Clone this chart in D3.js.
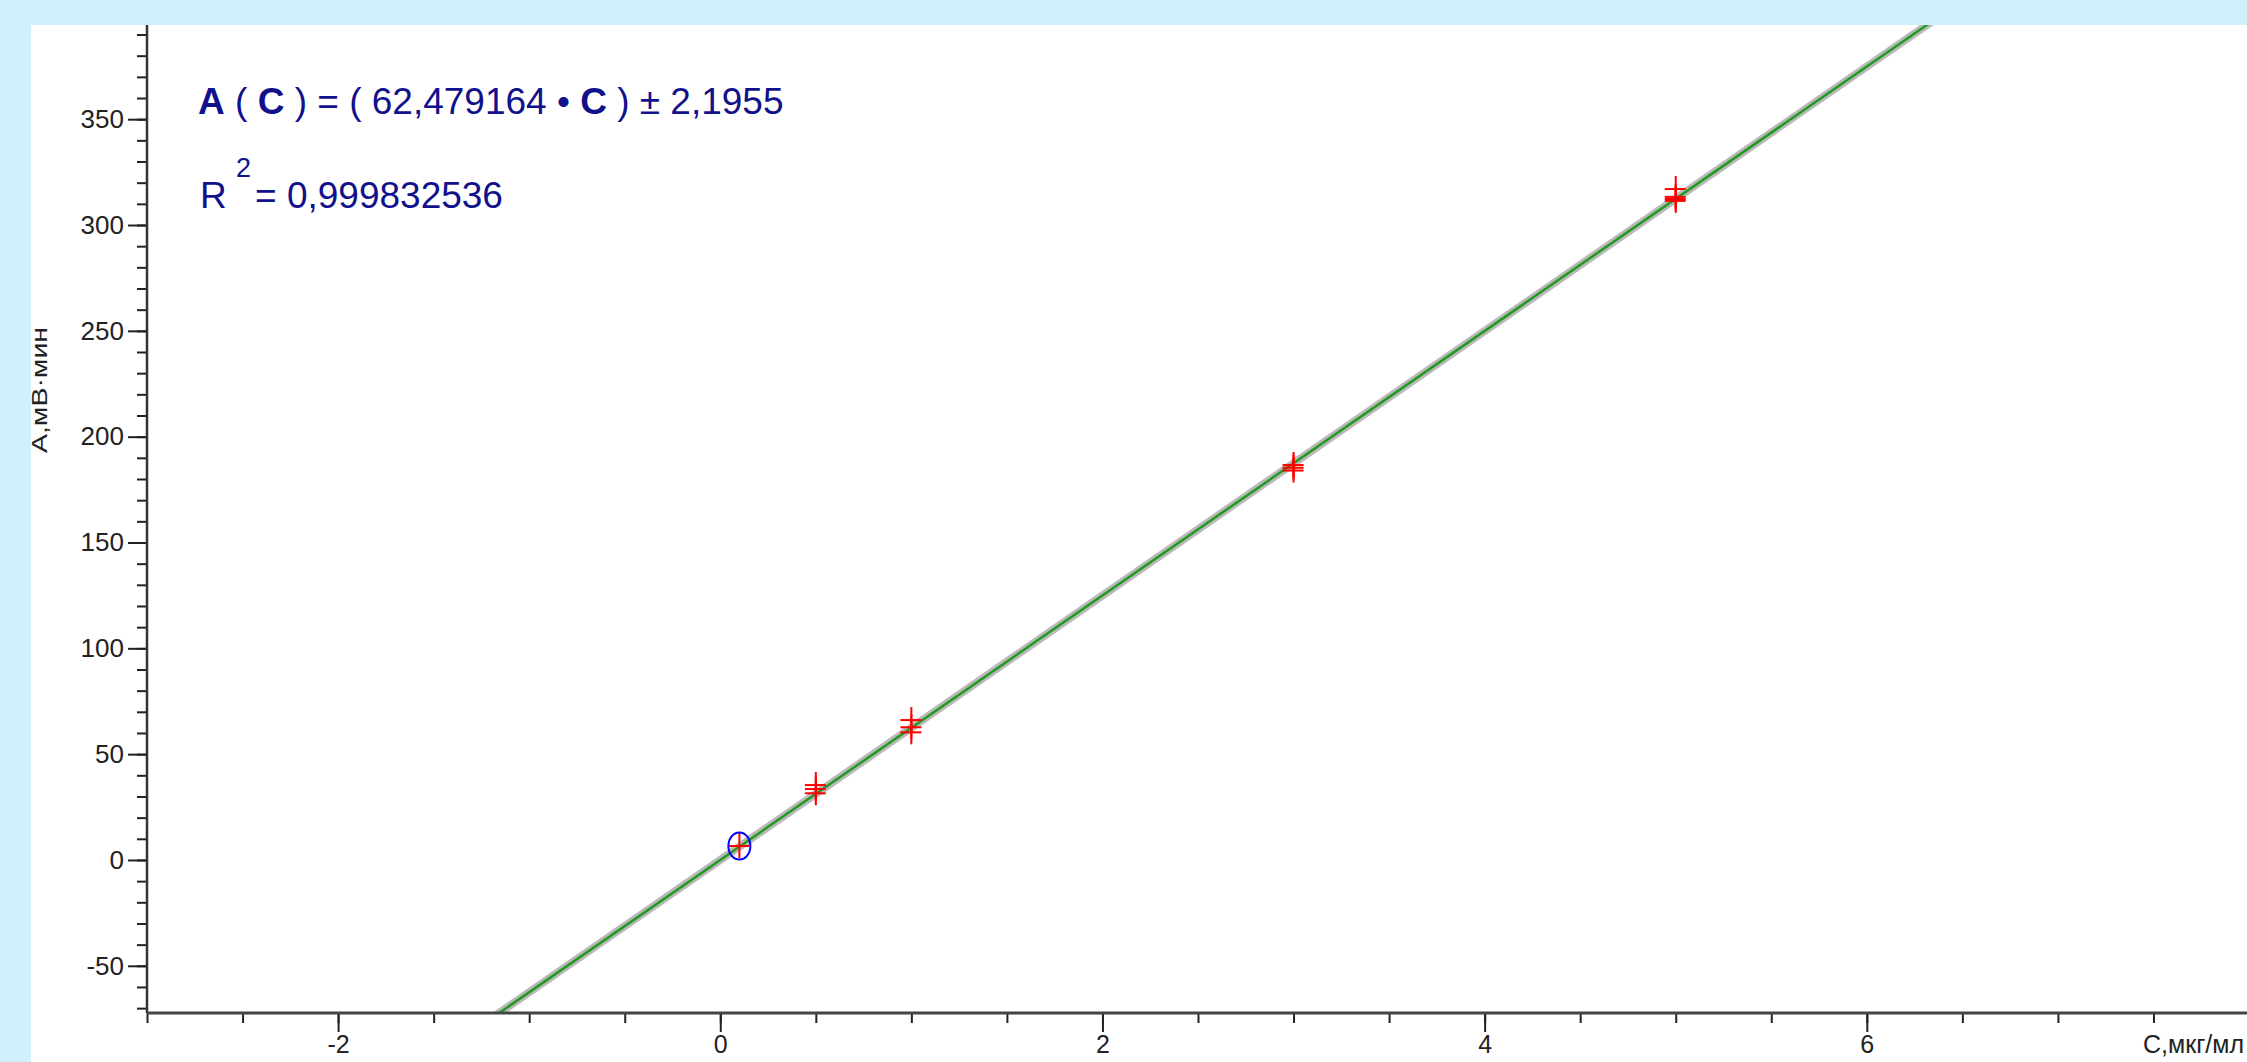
<!DOCTYPE html>
<html>
<head>
<meta charset="utf-8">
<script src="https://cdn.jsdelivr.net/npm/d3@7/dist/d3.min.js"></script>
<style>
  html, body { margin: 0; padding: 0; background: #d0f0fc; overflow: hidden; }
  svg { display: block; font-family: Arial, "Liberation Sans", sans-serif; }
</style>
</head>
<body>
<script>
// calibration standards, C in мкг/мл
let concentrations = [0.1, 0.5, 1, 3, 5];
// peak areas of the replicate runs for each standard, A in мВ·мин
let areas = [
    [6.6],
    [35.4, 33.5, 31.5],
    [66.1, 62.7, 60.3],
    [186.6, 185.3, 184.0],
    [317.0, 313.3, 312.3, 311.4]
];
// control sample (blue mark)
let controlC = [0.1];
let controlA = [6.6];

// fitted line A(C) = k*C
let slope = 62.479164;
let equationText = "A ( C ) = ( 62,479164 • C ) ± 2,1955";
let r2Text = "= 0,999832536";

// axes
let xDomain = [-3, 8];
let yDomain = [-72.3, 394.5];
let xMajor = [-2, 0, 2, 4, 6];
let xMinor = d3.range(-3, 8.01, 0.5);
let yMajor = [-50, 0, 50, 100, 150, 200, 250, 300, 350];
let yMinor = d3.range(-70, 391, 10);
let xTitle = "C,мкг/мл";
let yTitle = "A,мВ·мин";

let svgWidth = 2247, svgHeight = 1062;
let plot = { left: 147, right: 2249, top: 25, bottom: 1013 };

let svg = d3.select("body")
    .append("svg")
    .attr("width", svgWidth)
    .attr("height", svgHeight);

// white chart panel
svg.append("rect")
    .attr("x", 31).attr("y", 25)
    .attr("width", svgWidth - 31).attr("height", svgHeight - 25)
    .attr("fill", "#ffffff");

let xScale = d3.scaleLinear().domain(xDomain).range([plot.left, plot.right]);
let yScale = d3.scaleLinear().domain(yDomain).range([plot.bottom, plot.top]);

svg.append("clipPath").attr("id", "plotclip")
    .append("rect")
    .attr("x", plot.left).attr("y", plot.top)
    .attr("width", plot.right - plot.left).attr("height", plot.bottom - plot.top);

// regression line: grey halo + green core
let lineData = xDomain.map(c => ({ c: c, a: slope * c }));
let lineGen = d3.line().x(d => xScale(d.c)).y(d => yScale(d.a));
let lineG = svg.append("g").attr("clip-path", "url(#plotclip)");
lineG.append("path").datum(lineData)
    .attr("fill", "none").attr("stroke", "#b9b9b9").attr("stroke-width", 8)
    .attr("d", lineGen);
lineG.append("path").datum(lineData)
    .attr("fill", "none").attr("stroke", "#229a22").attr("stroke-width", 2.5)
    .attr("d", lineGen);

// replicate points as red crosses
let points = [];
concentrations.forEach((c, i) => areas[i].forEach(a => points.push({ c: c, a: a })));

let marks = svg.append("g").attr("stroke", "#ff0000").attr("stroke-width", 2);
marks.selectAll("line.v").data(points).enter().append("line")
    .attr("class", "v")
    .attr("x1", d => xScale(d.c)).attr("x2", d => xScale(d.c))
    .attr("y1", d => yScale(d.a) - 13).attr("y2", d => yScale(d.a) + 12);
marks.selectAll("line.h").data(points).enter().append("line")
    .attr("class", "h")
    .attr("x1", d => xScale(d.c) - 11).attr("x2", d => xScale(d.c) + 10)
    .attr("y1", d => yScale(d.a)).attr("y2", d => yScale(d.a));

// control sample ring
svg.selectAll("ellipse.ctrl").data(controlC).enter().append("ellipse")
    .attr("class", "ctrl")
    .attr("cx", d => xScale(d)).attr("cy", (d, i) => yScale(controlA[i]))
    .attr("rx", 11).attr("ry", 13.5)
    .attr("fill", "none").attr("stroke", "#0000ff").attr("stroke-width", 2);

// axes
function styleAxis(g) {
    g.selectAll(".tick line").attr("stroke", "#222").attr("stroke-width", 2);
    g.selectAll(".tick text").attr("fill", "#222").attr("font-size", 26)
        .attr("font-family", "Arial, 'Liberation Sans', sans-serif");
    g.select(".domain").remove();
}
let plainNum = d => String(d);

svg.append("g").attr("transform", "translate(" + plot.left + ",0)")
    .call(d3.axisLeft(yScale).tickValues(yMinor).tickSize(10).tickFormat(""))
    .call(styleAxis);
svg.append("g").attr("transform", "translate(" + plot.left + ",0)")
    .call(d3.axisLeft(yScale).tickValues(yMajor).tickSize(19).tickPadding(4).tickFormat(plainNum))
    .call(styleAxis);

svg.append("g").attr("transform", "translate(0," + plot.bottom + ")")
    .call(d3.axisBottom(xScale).tickValues(xMinor).tickSize(10).tickFormat(""))
    .call(styleAxis);
let xAxisG = svg.append("g").attr("transform", "translate(0," + plot.bottom + ")")
    .call(d3.axisBottom(xScale).tickValues(xMajor).tickSize(19).tickPadding(3).tickFormat(plainNum))
    .call(styleAxis);
xAxisG.selectAll(".tick text").attr("font-size", 25);

// axis lines
svg.append("line")
    .attr("x1", plot.left).attr("x2", plot.left)
    .attr("y1", plot.top).attr("y2", plot.bottom)
    .attr("stroke", "#333").attr("stroke-width", 2.5);
svg.append("line")
    .attr("x1", plot.left).attr("x2", svgWidth)
    .attr("y1", plot.bottom).attr("y2", plot.bottom)
    .attr("stroke", "#444").attr("stroke-width", 3);

// axis titles
svg.append("text")
    .attr("x", svgWidth - 3).attr("y", plot.bottom + 40)
    .attr("text-anchor", "end")
    .attr("font-size", 25).attr("fill", "#222")
    .text(xTitle);
svg.append("text")
    .attr("transform", "translate(47,390) rotate(-90)")
    .attr("text-anchor", "middle")
    .attr("font-size", 22).attr("fill", "#222")
    .attr("textLength", 126).attr("lengthAdjust", "spacingAndGlyphs")
    .text(yTitle);

// regression equation
let eqColor = "#11118c";
let eq = svg.append("text").attr("x", 198).attr("y", 114)
    .attr("font-size", 37).attr("fill", eqColor).attr("xml:space", "preserve");
let parts = equationText.split(/(A|C)/);
parts.forEach(p => {
    if (p === "") return;
    eq.append("tspan")
        .attr("font-weight", (p === "A" || p === "C") ? "bold" : "normal")
        .text(p);
});

svg.append("text").attr("x", 200).attr("y", 208)
    .attr("font-size", 37).attr("fill", eqColor).text("R");
svg.append("text").attr("x", 236).attr("y", 177)
    .attr("font-size", 27).attr("fill", eqColor).text("2");
svg.append("text").attr("x", 255).attr("y", 208)
    .attr("font-size", 37).attr("fill", eqColor).text(r2Text);
</script>
</body>
</html>
